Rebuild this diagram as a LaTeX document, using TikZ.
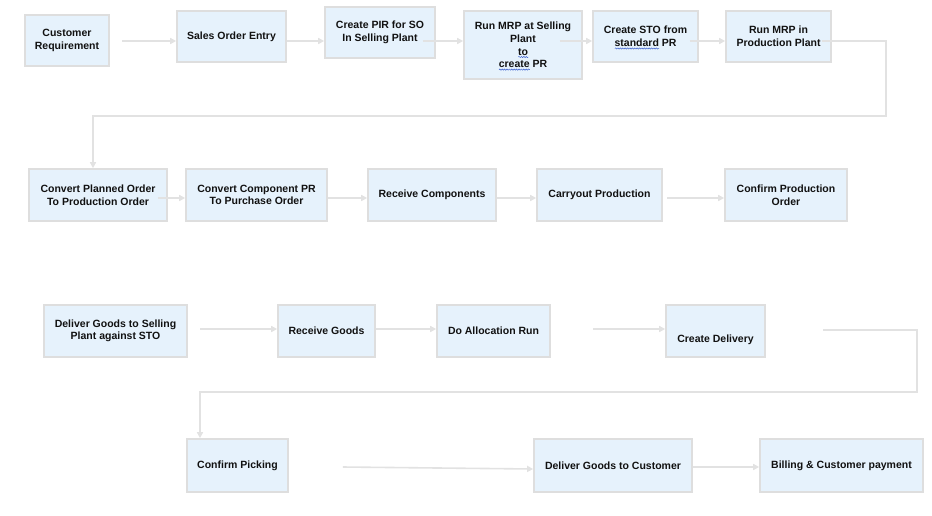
\documentclass[tikz,border=0pt]{standalone}
\usepackage{fontspec}
\setmainfont{Liberation Sans}
\usetikzlibrary{arrows.meta,decorations.pathmorphing}
\definecolor{boxfill}{HTML}{E6F2FC}
\definecolor{boxline}{HTML}{DEDEDE}
\definecolor{arrowcol}{HTML}{E2E2E2}
\definecolor{wavecol}{HTML}{3A5FCD}
\definecolor{txtcol}{HTML}{111111}
\newsavebox\wavebox
\newcommand\spellwave[1]{\sbox\wavebox{#1}\rlap{\raisebox{-2.8pt}[0pt][0pt]{\tikz[x=1pt,y=1pt]\draw[wavecol,line width=0.5pt,decorate,decoration={snake,amplitude=0.6pt,segment length=2.4pt}] (0,0) -- (\the\wd\wavebox,0);}}\usebox\wavebox}
\begin{document}
\begin{tikzpicture}[x=1pt,y=-1pt,
  boxtext/.style={text=txtcol, align=center, inner sep=0pt, font=\bfseries\fontsize{10.5}{12.6}\selectfont},
  stepbox/.style={boxtext, draw=boxline, line width=1.6pt, fill=boxfill, rectangle},
  conn/.style={draw=arrowcol, line width=1.6pt, -{Triangle[length=6pt,width=6pt]}}]
\useasboundingbox (0,0) rectangle (932,515);

% Row 1
\node[stepbox, minimum width=84pt, minimum height=51pt] (cr) at (67,40.5) {Customer\\Requirement};
\node[stepbox, minimum width=109pt, minimum height=51pt] (soe) at (231.5,36.5) {Sales Order Entry};
\node[stepbox, minimum width=110pt, minimum height=51pt] (pir) at (380,32.5) {Create PIR for SO\\In Selling Plant};
\node[stepbox, minimum width=118pt, minimum height=68pt] (mrps) at (523,45) {Run MRP at Selling\\Plant\\\spellwave{to}\\\spellwave{create} PR};
\node[stepbox, minimum width=105pt, minimum height=51pt] (sto) at (645.5,36.5) {Create STO from\\\spellwave{standard} PR};
\node[stepbox, minimum width=105pt, minimum height=51pt] (mrpp) at (778.5,36.5) {Run MRP in\\Production Plant};

% Row 2
\node[stepbox, minimum width=138pt, minimum height=52pt] (cpo) at (98,195) {Convert Planned Order\\To Production Order};
\node[stepbox, minimum width=141pt, minimum height=52pt] (ccpr) at (256.5,195) {Convert Component PR\\To Purchase Order};
\node[stepbox, minimum width=128pt, minimum height=52pt] (rc) at (432,195) {Receive Components};
\node[stepbox, minimum width=125pt, minimum height=52pt] (cp) at (599.5,195) {Carryout Production};
\node[stepbox, minimum width=122pt, minimum height=52pt] (cpo2) at (786,195) {Confirm Production\\Order};

% Row 3
\node[stepbox, minimum width=143pt, minimum height=52pt] (dg) at (115.5,331) {Deliver Goods to Selling\\Plant against STO};
\node[stepbox, minimum width=97pt, minimum height=52pt] (rg) at (326.5,331) {Receive Goods};
\node[stepbox, minimum width=113pt, minimum height=52pt] (dar) at (493.5,331) {Do Allocation Run};
\node[stepbox, minimum width=99pt, minimum height=52pt] (cd) at (715.5,331) {};
\node[boxtext] (cdt) at ([yshift=-9pt]cd.center) {Create Delivery};

% Row 4
\node[stepbox, minimum width=101pt, minimum height=53pt] (cpk) at (237.5,465.5) {Confirm Picking};
\node[stepbox, minimum width=158pt, minimum height=53pt] (dgc) at (613,465.5) {Deliver Goods to Customer};
\node[stepbox, minimum width=163pt, minimum height=53pt] (bill) at (841.5,465.5) {Billing \& Customer payment};

% Row 1 connectors
\draw[conn] (cr.east) ++(12,0.5) coordinate (a1) -- (a1 -| soe.west);
\draw[conn] (soe.east) ++(0,4.5) coordinate (a2) -- (a2 -| pir.west);
\draw[conn] (pir.east) ++(-13,8.5) coordinate (a3) -- (a3 -| mrps.west);
\draw[conn] (mrps.east) ++(-23,-4) coordinate (a4) -- (a4 -| sto.west);
\draw[conn] (sto.east) ++(-9,4.5) coordinate (a5) -- (a5 -| mrpp.west);
\coordinate (turn1) at (886,116);
\draw[conn] (mrpp.east) ++(-10,4.5) coordinate (a6) -| (turn1) -| ([xshift=-5pt]cpo.north);

% Row 2 connectors
\draw[conn] (cpo.east) ++(-10,3) coordinate (b1) -- (b1 -| ccpr.west);
\draw[conn] (ccpr.east) ++(0,3) coordinate (b2) -- (b2 -| rc.west);
\draw[conn] (rc.east) ++(0,3) coordinate (b3) -- (b3 -| cp.west);
\draw[conn] (cp.east) ++(4,3) coordinate (b4) -- (b4 -| cpo2.west);

% Row 3 connectors
\draw[conn] (dg.east) ++(12,-2) coordinate (c1) -- (c1 -| rg.west);
\draw[conn] (rg.east) ++(0,-2) coordinate (c2) -- (c2 -| dar.west);
\draw[conn] (dar.east) ++(42,-2) coordinate (c3) -- (c3 -| cd.west);
\coordinate (turn2) at (917,392);
\draw[conn] (cd.east) ++(57,-1) coordinate (c4) -| (turn2) -| ([xshift=-37.5pt]cpk.north);

% Row 4 connectors
\draw[conn] (cpk.east) ++(54,1.5) coordinate (d1) -- ([yshift=-3.5pt]dgc.west);
\draw[conn] (dgc.east) ++(0,1.5) coordinate (d2) -- (d2 -| bill.west);
\end{tikzpicture}
\end{document}
